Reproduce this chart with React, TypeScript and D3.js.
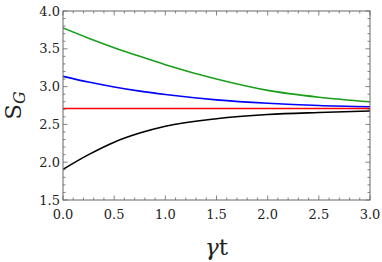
import React from 'react';
import * as d3 from 'd3';

const tValues = [0, 0.25, 0.5, 0.75, 1, 1.5, 2, 2.5, 3];
const greenValues = [3.775, 3.64, 3.515, 3.4, 3.29, 3.1, 2.95, 2.86, 2.8];
const blueValues = [3.136, 3.06, 2.995, 2.94, 2.895, 2.825, 2.78, 2.75, 2.734];
const redValues = [2.71, 2.71, 2.71, 2.71, 2.71, 2.71, 2.71, 2.71, 2.71];
const blackValues = [1.906, 2.1, 2.265, 2.385, 2.475, 2.575, 2.63, 2.657, 2.677];

const xMajor = [0, 0.5, 1, 1.5, 2, 2.5, 3];
const yMajor = [1.5, 2, 2.5, 3, 3.5, 4];

const series = [
  { name: 'green', color: '#1a9e1a', values: greenValues },
  { name: 'blue', color: '#0000ff', values: blueValues },
  { name: 'red', color: '#ff0000', values: redValues },
  { name: 'black', color: '#000000', values: blackValues },
];

const W = 382;
const H = 262;
const margin = { top: 11, right: 12, bottom: 62, left: 63 };
const font = 'DejaVu Serif, Liberation Serif, serif';

export default function App() {
  const x = d3.scaleLinear().domain([0, 3]).range([margin.left, W - margin.right]);
  const y = d3.scaleLinear().domain([1.5, 4]).range([H - margin.bottom, margin.top]);
  const [x0, x1] = x.range();
  const [y0, y1] = y.range();

  const line = d3
    .line<number>()
    .x((_, i) => x(tValues[i]))
    .y((d) => y(d))
    .curve(d3.curveMonotoneX);

  const xMinor = d3.range(0, 3.0001, 0.1).filter((v) => !xMajor.some((m) => Math.abs(m - v) < 1e-6));
  const yMinor = d3.range(1.5, 4.0001, 0.1).filter((v) => !yMajor.some((m) => Math.abs(m - v) < 1e-6));
  const tickColor = '#666';

  return (
    <svg width={W} height={H} style={{ position: 'absolute', left: 0, top: 0, background: '#fff' }}>
      <defs>
        <clipPath id="plot">
          <rect x={x0} y={y1} width={x1 - x0} height={y0 - y1} />
        </clipPath>
      </defs>
      <g clipPath="url(#plot)">
        {series.map((s) => (
          <path key={s.name} d={line(s.values) ?? ''} fill="none" stroke={s.color} strokeWidth={1.6} />
        ))}
      </g>
      {/* frame ticks, all four sides, pointing inward */}
      <g stroke={tickColor} strokeWidth={0.8}>
        {xMajor.map((v) => (
          <g key={'xM' + v}>
            <line x1={x(v)} x2={x(v)} y1={y0} y2={y0 - 4.5} />
            <line x1={x(v)} x2={x(v)} y1={y1} y2={y1 + 4.5} />
          </g>
        ))}
        {xMinor.map((v) => (
          <g key={'xm' + v}>
            <line x1={x(v)} x2={x(v)} y1={y0} y2={y0 - 2.5} />
            <line x1={x(v)} x2={x(v)} y1={y1} y2={y1 + 2.5} />
          </g>
        ))}
        {yMajor.map((v) => (
          <g key={'yM' + v}>
            <line x1={x0} x2={x0 + 4.5} y1={y(v)} y2={y(v)} />
            <line x1={x1} x2={x1 - 4.5} y1={y(v)} y2={y(v)} />
          </g>
        ))}
        {yMinor.map((v) => (
          <g key={'ym' + v}>
            <line x1={x0} x2={x0 + 2.5} y1={y(v)} y2={y(v)} />
            <line x1={x1} x2={x1 - 2.5} y1={y(v)} y2={y(v)} />
          </g>
        ))}
      </g>
      <rect x={x0} y={y1} width={x1 - x0} height={y0 - y1} fill="none" stroke={tickColor} strokeWidth={1} />
      <g fontFamily={font} fontSize={13} fill="#222">
        {xMajor.map((v) => (
          <text key={'xl' + v} x={x(v)} y={y0 + 19} textAnchor="middle">
            {d3.format('.1f')(v)}
          </text>
        ))}
        {yMajor.map((v) => (
          <text key={'yl' + v} x={x0 - 3} y={y(v)} dy="0.35em" textAnchor="end">
            {d3.format('.1f')(v)}
          </text>
        ))}
      </g>
      <text x={(x0 + x1) / 2} y={255} textAnchor="middle" fontFamily={font} fontSize={23} fill="#222">
        <tspan fontStyle="italic">γ</tspan>t
      </text>
      <text
        transform={`translate(21, ${(y0 + y1) / 2}) rotate(-90)`}
        textAnchor="middle"
        fontFamily={font}
        fontSize={23}
        fill="#222"
      >
        S<tspan fontStyle="italic" fontSize={16} dy={4}>G</tspan>
      </text>
    </svg>
  );
}
